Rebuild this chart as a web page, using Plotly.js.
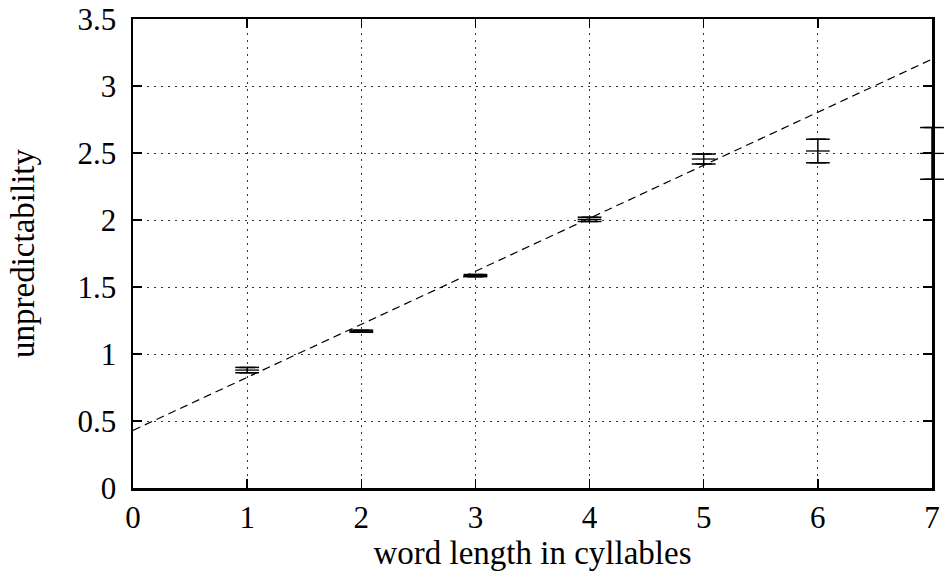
<!DOCTYPE html>
<html>
<head>
<meta charset="utf-8">
<script src="https://cdn.plot.ly/plotly-3.0.1.min.js"></script>
<style>html,body{margin:0;padding:0;background:#fff;}#chart{width:948px;height:573px;}</style>
</head>
<body>
<div id="chart"></div>
<script>
// word length in syllables vs unpredictability
const wordLength = [1, 2, 3, 4, 5, 6, 7];
const unpredictability = [0.88, 1.17, 1.585, 2.005, 2.455, 2.515, 2.497];
const errorValues = [0.02, 0.008, 0.008, 0.016, 0.037, 0.088, 0.193];
const fitX = [0, 7];
const fitY = [0.43, 3.2];
const xTicks = [0, 1, 2, 3, 4, 5, 6, 7];
const yTicks = [0, 0.5, 1, 1.5, 2, 2.5, 3, 3.5];
const yTickText = ['0', '0.5', '1', '1.5', '2', '2.5', '3', '3.5'];

const font = "'Liberation Serif', 'DejaVu Serif', serif";

// error-bar caps (drawn as markers so they are not clipped at the frame)
const capX = wordLength.concat(wordLength);
const capY = unpredictability.map((v, i) => v + errorValues[i])
  .concat(unpredictability.map((v, i) => v - errorValues[i]));

const traces = [
  {
    x: fitX, y: fitY, mode: 'lines', type: 'scatter',
    line: {color: '#000', width: 1.2, dash: '8px,5px'},
    hoverinfo: 'skip', showlegend: false, cliponaxis: true
  },
  {
    x: wordLength, y: unpredictability, mode: 'markers', type: 'scatter',
    marker: {symbol: 'line-ew', size: 17, color: '#000', line: {color: '#000', width: 1.3}},
    error_y: {type: 'data', array: errorValues, visible: true, color: '#000', thickness: 1.5, width: 8},
    showlegend: false, cliponaxis: false
  },
  {
    x: capX, y: capY, mode: 'markers', type: 'scatter',
    marker: {symbol: 'line-ew', size: 17, color: '#000', line: {color: '#000', width: 1.5}},
    showlegend: false, cliponaxis: false, hoverinfo: 'skip'
  }
];

const layout = {
  width: 948, height: 573,
  margin: {l: 133, r: 16, t: 19, b: 85},
  paper_bgcolor: '#fff', plot_bgcolor: '#fff',
  font: {family: font, size: 31, color: '#000'},
  showlegend: false,
  xaxis: {
    range: [0, 7], tickvals: xTicks, ticktext: xTicks.map(String),
    ticks: 'inside', ticklen: 9, tickwidth: 1.5, tickcolor: '#000',
    showline: true, linewidth: 2.5, linecolor: '#000', mirror: 'ticks',
    showgrid: true, gridcolor: '#333', griddash: '2px,5px', gridwidth: 1,
    zeroline: false, ticklabelstandoff: 0,
    title: {text: 'word length in cyllables', font: {family: font, size: 33}, standoff: 0}
  },
  yaxis: {
    range: [0, 3.5], tickvals: yTicks, ticktext: yTickText,
    ticks: 'inside', ticklen: 9, tickwidth: 1.5, tickcolor: '#000',
    showline: true, linewidth: 2.5, linecolor: '#000', mirror: 'ticks',
    showgrid: true, gridcolor: '#333', griddash: '2px,5px', gridwidth: 1,
    zeroline: false, ticklabelstandoff: 8,
    title: {text: 'unpredictability', font: {family: font, size: 33}, standoff: 33}
  }
};

Plotly.newPlot('chart', traces, layout, {displayModeBar: false, staticPlot: true});
</script>
</body>
</html>
